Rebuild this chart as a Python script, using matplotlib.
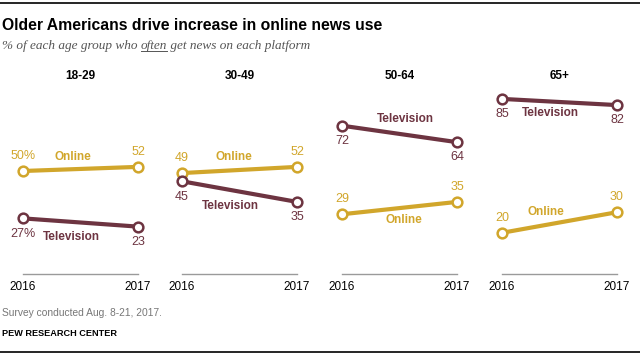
import matplotlib.pyplot as plt
from matplotlib.lines import Line2D

# data
groups = ['18-29', '30-49', '50-64', '65+']
years = [2016, 2017]
online = [[50, 52], [49, 52], [29, 35], [20, 30]]
television = [[27, 23], [45, 35], [72, 64], [85, 82]]

gold = '#D1A62B'
maroon = '#6D3441'

fig = plt.figure(figsize=(6.4, 3.58), dpi=100)
W, H = 640, 358

# where each small panel sits (pixels)
left_px = [23, 182, 342, 502]
panel_w = 115
y0_px, y100_px = 274, 68

# which side of the line each label goes (+1 above, -1 below)
num_side = {'online': [1, 1, 1, 1], 'tv': [-1, -1, -1, -1]}
name_pos = {  # (x fraction, value) for series name labels
    'online': [(0.43, 57), (0.45, 57), (0.54, 26), (0.38, 30)],
    'tv': [(0.42, 18), (0.42, 33), (0.55, 75), (0.42, 78)],
}

for i, g in enumerate(groups):
    ax = fig.add_axes([left_px[i] / W, 1 - y0_px / H, panel_w / W, (y0_px - y100_px) / H])
    ax.set_xlim(2016, 2017)
    ax.set_ylim(0, 100)
    ax.axis('off')
    ax.axhline(0, color='#9a9a9a', lw=1, clip_on=False)
    for vals, col, key in [(online[i], gold, 'online'), (television[i], maroon, 'tv')]:
        ax.plot(years, vals, color=col, lw=3.0, marker='o', ms=7, mfc='white',
                mec=col, mew=1.8, clip_on=False, solid_capstyle='butt')
        side = num_side[key][i]
        for j, (yr, v) in enumerate(zip(years, vals)):
            txt = str(v)
            if i == 0 and j == 0:
                txt += '%'
            ax.annotate(txt, (yr, v), xytext=(0, 11 * side), textcoords='offset points',
                        ha='center', va='center', fontsize=9, color=col,
                        family='Liberation Sans')
        fx, fv = name_pos[key][i]
        ax.text(2016 + fx, fv, 'Online' if key == 'online' else 'Television',
                ha='center', va='center', fontsize=8.5, fontweight='bold', color=col,
                family='Liberation Sans')
    ax.text(2016.5, 96, g, ha='center', va='center', fontsize=8.5, fontweight='bold',
            color='black', family='Liberation Sans')
    for yr in years:
        ax.text(yr, -6.3, str(yr), ha='center', va='center', fontsize=8.5,
                color='black', family='Liberation Sans')

# title / subtitle
fig.text(2 / W, 1 - 25 / H, 'Older Americans drive increase in online news use',
         fontsize=11.3, fontweight='bold', family='Liberation Sans', va='center')
sub_kw = dict(fontsize=9.5, style='italic', family='Liberation Serif', color='#555555')
t1 = fig.text(2 / W, 1 - 46 / H, '% of each age group who ', va='center', **sub_kw)
t2 = plt.annotate('often', xy=(1, 0), xycoords=t1, va='bottom', ha='left', **sub_kw)
t3 = plt.annotate(' get news on each platform', xy=(1, 0), xycoords=t2,
                  va='bottom', ha='left', **sub_kw)

fig.text(2 / W, 1 - 313 / H, 'Survey conducted Aug. 8-21, 2017.', fontsize=7.4,
         color='#777777', family='Liberation Sans', va='center')
fig.text(2 / W, 1 - 333 / H, 'PEW RESEARCH CENTER', fontsize=6.6, fontweight='bold',
         color='black', family='Liberation Sans', va='center')
fig.add_artist(Line2D([0, 1], [1 - 3 / H, 1 - 3 / H], color='black', lw=1.2))
fig.add_artist(Line2D([0, 1], [1 - 352 / H, 1 - 352 / H], color='black', lw=1.2))

# underline "often"
fig.canvas.draw()
bb = t2.get_window_extent().transformed(fig.transFigure.inverted())
fig.add_artist(Line2D([bb.x0, bb.x1], [bb.y0 + 0.004, bb.y0 + 0.004], color='#555555', lw=0.7))

fig.savefig('out.png', dpi=100)
